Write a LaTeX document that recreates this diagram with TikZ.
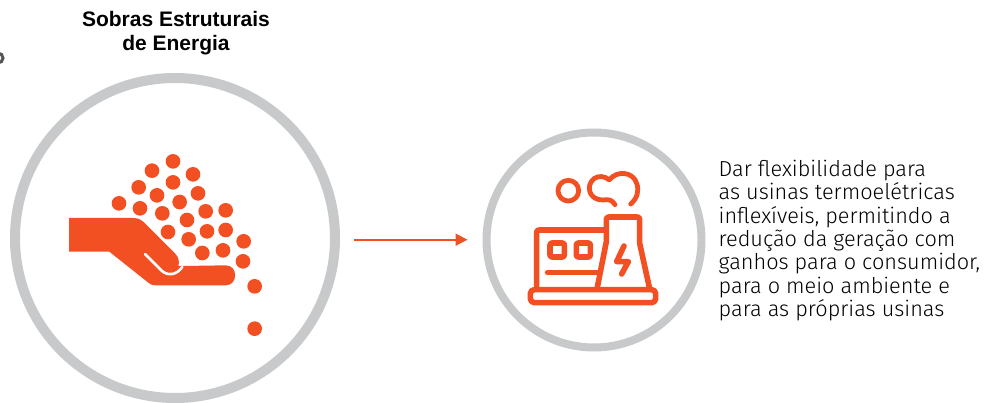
\documentclass[tikz,border=0pt]{standalone}
\usepackage{fontspec}
\usetikzlibrary{arrows.meta}
\setmainfont{Fira Sans Light}
\newfontfamily\headf{Liberation Sans}[BoldFont={Liberation Sans Bold}]
\definecolor{acc}{HTML}{F25022}
\definecolor{ring}{HTML}{C8C9CA}
\definecolor{frag}{HTML}{555555}
\tikzset{
  x=1pt,y=-1pt,
  ringnode/.style={circle,draw=ring,fill=none,inner sep=0pt},
  grain/.style={fill=acc,draw=none},
  icon/.style={draw=acc,line width=5.6pt,line join=round,line cap=round},
  zoomed/.style={x=0.33333pt,y=-0.33333pt},
  conn/.style={draw=acc,line width=1.7pt,-{Triangle[length=12pt,width=12pt]}},
  head/.style={font=\headf\bfseries\fontsize{21}{23.5}\selectfont,align=center,text=black,inner sep=0pt},
  body/.style={font=\fontsize{21.7}{23.35}\selectfont,align=left,text=black,inner sep=0pt,anchor=north west}
}
\begin{document}
\begin{tikzpicture}
\useasboundingbox (0,0) rectangle (993,403);
\fill[white] (0,0) rectangle (993,403);
\draw[frag,line width=3pt] (-2,58) circle (5);
\node[ringnode,line width=10pt,minimum size=320pt] (bigc) at (175,238) {};
\node[ringnode,line width=8pt,minimum size=215pt] (smallc) at (594,240) {};
\node[head] (title) at (176,33) {Sobras Estruturais\\de Energia};
\node[body] (desc) at (718.5,160) {Dar flexibilidade para\\as usinas termoelétricas\\inflexíveis, permitindo a\\redução da geração com\\ganhos para o consumidor,\\para o meio ambiente e\\para as próprias usinas};
\coordinate (arrowfrom) at (354,239.7);
\coordinate (arrowto) at (467.5,239.7);
\draw[conn] (arrowfrom) -- (arrowto);
\begin{scope}[shift={(50,140)},zoomed]
 \fill[acc] (57,234) -- (250,234) .. controls (265,234) and (275,240) .. (285,250) -- (375,340) .. controls (388,353) and (388,368) .. (385,378) -- (400,378) -- (527,376) .. controls (565,376) and (565,436) .. (527,436) -- (315,436) .. controls (305,436) and (300,432) .. (295,428) -- (178,335) -- (57,335) -- cycle;
 \draw[white,line width=2.6pt,line cap=round] (285,342) -- (335,392) .. controls (350,407) and (380,408) .. (397,380);
 \foreach \px/\py in {369/64,306/92,429/103,266/142,369/127,321/166,444/160,207/190,270/205,389/186,337/220,467/214,527/211,411/240,354/276,471/274,527/270,581/304,416/298,457/339,519/331,579/364,614/439,614/566}
   \fill[grain] (\px,\py) circle (22);
\end{scope}
\begin{scope}[shift={(510,160)},zoomed]
 \draw[icon,line width=4.8pt] (175,92) circle (31);
 \draw[icon,line width=4.8pt] (315,134) .. controls (305,118) and (295,118) .. (280,120) .. controls (238,122) and (225,78) .. (252,56) .. controls (265,46) and (285,48) .. (298,60) .. controls (320,30) and (370,35) .. (380,70) .. controls (388,92) and (382,115) .. (362,132);
 \draw[icon] (80,378) -- (80,218) .. controls (80,212) and (82,210) .. (88,210) -- (285,210);
 \draw[icon,rounded corners=4pt] (61,389) rectangle (437,428);
 \draw[icon] (262,382) -- (289,245) -- (289,179) .. controls (289,173) and (291,171) .. (297,171) -- (381,171) .. controls (387,171) and (389,173) .. (389,179) -- (389,250) -- (418,382);
 \draw[icon,rounded corners=2pt] (120,249) rectangle (163,291);
 \draw[icon,rounded corners=2pt] (199,249) rectangle (241,291);
 \draw[icon] (113,338) -- (262,338);
 \draw[icon] (342,258) -- (320,305) -- (355,305) -- (335,342);
\end{scope}
\end{tikzpicture}
\end{document}
